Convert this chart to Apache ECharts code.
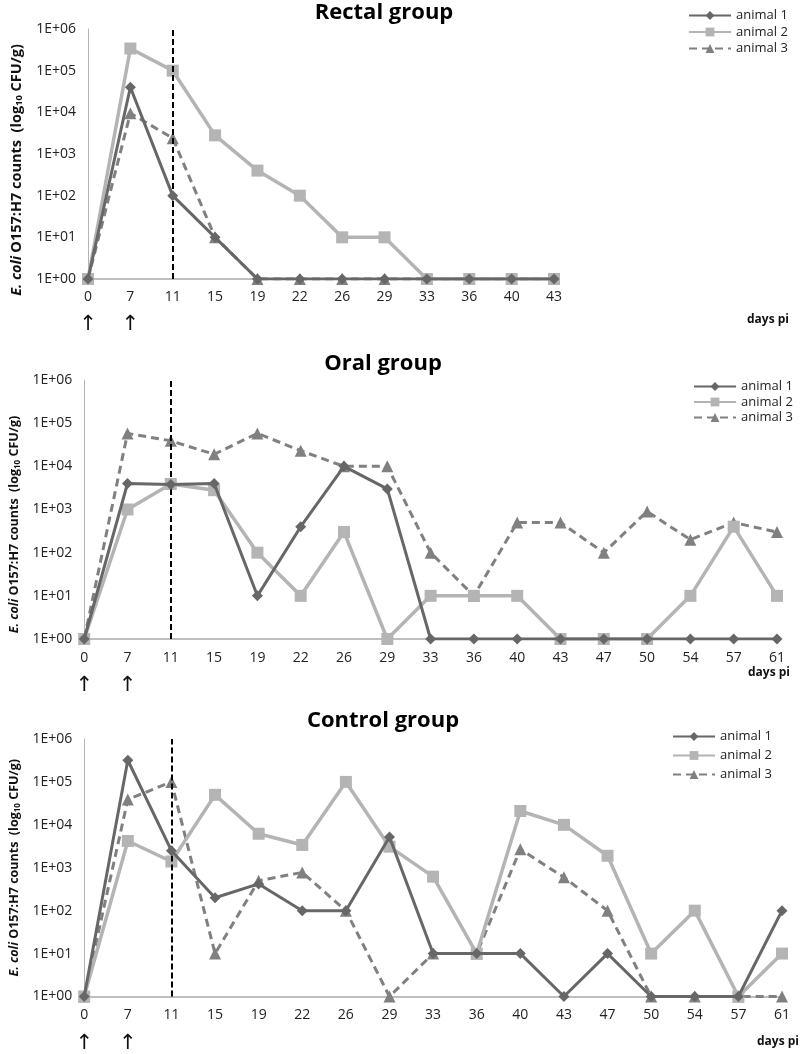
<!DOCTYPE html>
<html>
<head>
<meta charset="utf-8">
<script src="https://cdn.jsdelivr.net/npm/echarts@6/dist/echarts.min.js"></script>
<style>html,body{margin:0;padding:0;background:#fff}#c{width:800px;height:1054px}</style>
</head>
<body>
<div id="c"></div>
<script>
// ---------- data ----------
const rectalDays = ['0','7','11','15','19','22','26','29','33','36','40','43'];
const rectalA1 = [1, 40000, 100, 10, 1, 1, 1, 1, 1, 1, 1, 1];
const rectalA2 = [1, 340000, 100000, 2800, 400, 100, 10, 10, 1, 1, 1, 1];
const rectalA3 = [1, 9500, 2400, 10, 1, 1, 1, 1, 1, 1, 1, 1];

const oralDays = ['0','7','11','15','19','22','26','29','33','36','40','43','47','50','54','57','61'];
const oralA1 = [1, 4000, 3800, 4000, 10, 400, 10000, 3000, 1, 1, 1, 1, 1, 1, 1, 1, 1];
const oralA2 = [1, 1000, 3900, 2800, 100, 10, 300, 1, 10, 10, 10, 1, 1, 1, 10, 400, 10];
const oralA3 = [1, 58000, 39000, 19000, 58000, 23000, 10000, 10000, 100, 10, 500, 500, 100, 900, 200, 500, 300];

const controlDays = ['0','7','11','15','19','22','26','29','33','36','40','43','47','50','54','57','61'];
const controlA1 = [1, 320000, 2500, 200, 420, 100, 100, 5200, 10, 10, 10, 1, 10, 1, 1, 1, 100];
const controlA2 = [1, 4200, 1400, 50000, 6200, 3400, 100000, 3100, 620, 10, 21000, 10000, 1900, 10, 100, 1, 10];
const controlA3 = [1, 39000, 100000, 10, 500, 780, 100, 1, 10, 10, 2700, 600, 100, 1, 1, 1, 1];

const titles = ['Rectal group', 'Oral group', 'Control group'];
const seriesNames = ['animal 1', 'animal 2', 'animal 3'];
const arrowDays = ['0', '7'];
const dividerDay = '11';

// ---------- styling ----------
const FONT = "'Open Sans', 'Noto Sans', sans-serif";
const C1 = '#676767', C2 = '#b4b4b4', C3 = '#808080';

const panels = [
  {days: rectalDays, data: [rectalA1, rectalA2, rectalA3],
   grid: {left: 88, top: 29, width: 466, height: 250}, nameGap: 64, nameSize: 14.5, namePad: 32,
   labelMargin: 9, title: {x: 384, y: 2}, legend: {left: 688, top: 9, gap: 3.5},
   daysPi: {x: 747, y: 314}},
  {days: oralDays, data: [oralA1, oralA2, oralA3],
   grid: {left: 80, top: 380, width: 697, height: 259}, nameGap: 58, nameSize: 12.5, namePad: 30,
   labelMargin: 10, title: {x: 383, y: 353}, legend: {left: 693, top: 380, gap: 2.5},
   daysPi: {x: 748, y: 667}},
  {days: controlDays, data: [controlA1, controlA2, controlA3],
   grid: {left: 72, top: 739, width: 710, height: 265}, nameGap: 52, nameSize: 12.5, namePad: 0,
   labelMargin: 10, title: {x: 383, y: 710}, legend: {left: 672, top: 730, gap: 6},
   daysPi: {x: 757, y: 1036}}
];

const grids = [], xAxes = [], yAxes = [], series = [], legends = [], titleArr = [], graphics = [];

const expLabel = v => '1E+' + String(Math.round(Math.log10(v))).padStart(2, '0');

panels.forEach((p, i) => {
  grids.push(p.grid);
  xAxes.push({
    type: 'category', gridIndex: i, data: p.days, boundaryGap: false,
    axisLine: {lineStyle: {color: '#ababab', width: 1.5}},
    axisTick: {show: false},
    axisLabel: {
      interval: 0, margin: p.labelMargin, color: '#222', fontFamily: FONT, fontSize: 14,
      formatter: v => arrowDays.includes(v) ? '{v|' + v + '}\n{a|↑}' : '{v|' + v + '}',
      rich: {
        v: {fontSize: 14, fontFamily: FONT, color: '#222', lineHeight: 18},
        a: {fontSize: 21, fontFamily: "'DejaVu Sans', sans-serif", color: '#111', lineHeight: 38}
      }
    },
    splitLine: {show: false}
  });
  const ns = p.nameSize;
  yAxes.push({
    type: 'log', gridIndex: i, min: 1, max: 1000000, logBase: 10, splitNumber: 6,
    axisLine: {show: true, lineStyle: {color: '#b5b5b5', width: 1}},
    axisTick: {show: false},
    splitLine: {show: false},
    axisLabel: {margin: 12, color: '#222', fontFamily: FONT, fontSize: 14, formatter: expLabel},
    name: '{i|E. coli} {n|O157:H7 counts  (log}{s|10}{n| CFU/g)}',
    nameLocation: 'middle', nameGap: p.nameGap, nameRotate: 90,
    nameTextStyle: {
      padding: [0, p.namePad, 0, 0],
      rich: {
        i: {fontStyle: 'italic', fontWeight: 'bold', fontSize: ns, fontFamily: FONT, color: '#111'},
        n: {fontWeight: 'bold', fontSize: ns, fontFamily: FONT, color: '#111'},
        s: {fontWeight: 'bold', fontSize: ns * 0.65, fontFamily: FONT, color: '#111', padding: [6, 0, 0, 0]}
      }
    }
  });
  const styles = [
    {color: C1, symbol: 'diamond', size: 11, width: 3, type: 'solid'},
    {color: C2, symbol: 'rect', size: 12, width: 3.5, type: 'solid'},
    {color: C3, symbol: 'triangle', size: 12, width: 3, type: [8, 5]}
  ];
  p.data.forEach((d, k) => {
    const st = styles[k];
    const s = {
      name: seriesNames[k], type: 'line', xAxisIndex: i, yAxisIndex: i, data: d,
      symbol: st.symbol, symbolSize: st.size, showAllSymbol: true,
      itemStyle: {color: st.color},
      lineStyle: {color: st.color, width: st.width, type: st.type},
      animation: false, z: 5 - k
    };
    if (k === 0) {
      s.markLine = {
        silent: true, symbol: 'none', label: {show: false},
        lineStyle: {color: '#000', type: [6, 3], width: 2},
        data: [{xAxis: dividerDay}], animation: false
      };
    }
    series.push(s);
  });
  legends.push({
    orient: 'vertical', left: p.legend.left, top: p.legend.top, itemGap: p.legend.gap,
    padding: 0, itemWidth: 42, itemHeight: 11,
    textStyle: {fontFamily: FONT, fontSize: 13, color: '#222'},
    data: seriesNames.map(n => ({name: n})),
    selectedMode: false
  });
  titleArr.push({
    text: titles[i], left: p.title.x, top: p.title.y, textAlign: 'center', padding: 0,
    textStyle: {fontFamily: FONT, fontWeight: 'bold', fontSize: 22, color: '#000'}
  });
  graphics.push({
    type: 'text', left: p.daysPi.x, top: p.daysPi.y,
    style: {text: 'days pi', font: "bold 12px " + FONT, fill: '#111'}
  });
});

const chart = echarts.init(document.getElementById('c'), null, {renderer: 'canvas'});
chart.setOption({
  animation: false,
  backgroundColor: '#fff',
  title: titleArr,
  legend: legends,
  grid: grids,
  xAxis: xAxes,
  yAxis: yAxes,
  series: series,
  graphic: graphics
});
</script>
</body>
</html>
